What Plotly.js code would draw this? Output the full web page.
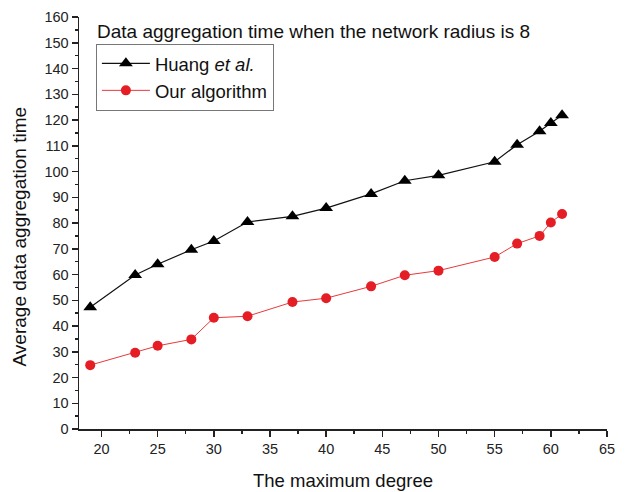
<!DOCTYPE html>
<html><head><meta charset="utf-8">
<script src="https://cdn.plot.ly/plotly-3.0.1.min.js"></script>
<style>html,body{margin:0;padding:0;background:#fff}#c{width:626px;height:492px}</style>
</head><body><div id="c"></div>
<script>
const degrees = [19, 23, 25, 28, 30, 33, 37, 40, 44, 47, 50, 55, 57, 59, 60, 61];
const huang = [47.3, 59.8, 64, 69.6, 73, 80.4, 82.6, 85.8, 91.3, 96.4, 98.5, 103.8, 110.4, 115.6, 118.8, 121.8];
const ours = [24.8, 29.6, 32.3, 34.8, 43.2, 43.8, 49.3, 50.8, 55.4, 59.7, 61.5, 66.8, 72, 75, 80.2, 83.5];
const seriesNames = ['Huang <i>et al.</i>', 'Our algorithm'];
const chartTitle = 'Data aggregation time when the network radius is 8';
const xTitle = 'The maximum degree';
const yTitle = 'Average data aggregation time';

const font = 'Arial, "Liberation Sans", sans-serif';
const traces = [
  {x: degrees, y: huang, name: seriesNames[0], mode: 'lines+markers', type: 'scatter',
   line: {color: '#111', width: 1.2}, marker: {symbol: 'triangle-up', size: 12, color: '#000'}},
  {x: degrees, y: ours, name: seriesNames[1], mode: 'lines+markers', type: 'scatter',
   line: {color: '#e8393c', width: 1}, marker: {symbol: 'circle', size: 10, color: '#e51d24'}}
];
const layout = {
  width: 626, height: 492,
  margin: {l: 79, r: 19, t: 17, b: 63},
  paper_bgcolor: '#fff', plot_bgcolor: '#fff',
  font: {family: font, size: 14, color: '#111'},
  showlegend: true,
  legend: {x: 0.032, y: 0.935, xanchor: 'left', yanchor: 'top', bordercolor: '#777', borderwidth: 1,
           bgcolor: 'rgba(255,255,255,0)', font: {family: font, size: 18.5, color: '#111'},
           tracegroupgap: 0, itemwidth: 48},
  xaxis: {range: [18, 65], dtick: 5, tick0: 20, showgrid: false, zeroline: false,
          showline: true, linecolor: '#222', linewidth: 1.5, ticks: 'outside', ticklen: 6, tickwidth: 1.5,
          tickcolor: '#222', tickfont: {size: 14.5, color: '#222'},
          minor: {dtick: 2.5, tick0: 20, ticks: 'outside', ticklen: 3, tickwidth: 1.5, tickcolor: '#222', showgrid: false},
          title: {text: xTitle, font: {size: 18.5, color: '#111'}, standoff: 18}},
  yaxis: {range: [0, 160], dtick: 10, showgrid: false, zeroline: false,
          showline: true, linecolor: '#222', linewidth: 1.5, ticks: 'outside', ticklen: 6, tickwidth: 1.5,
          tickcolor: '#222', tickfont: {size: 14.5, color: '#222'},
          minor: {dtick: 5, ticks: 'outside', ticklen: 3, tickwidth: 1.5, tickcolor: '#222', showgrid: false}},
  annotations: [
    {text: chartTitle, xref: 'paper', yref: 'paper', x: 0.03, y: 0.995, xanchor: 'left', yanchor: 'top',
     showarrow: false, font: {family: font, size: 19, color: '#111'}},
    {text: yTitle, xref: 'paper', yref: 'paper', x: -0.112, y: 0.467, xanchor: 'center', yanchor: 'middle',
     textangle: -90, showarrow: false, font: {family: font, size: 19, color: '#111'}}
  ]
};
Plotly.newPlot('c', traces, layout, {displayModeBar: false, staticPlot: true});
</script></body></html>
